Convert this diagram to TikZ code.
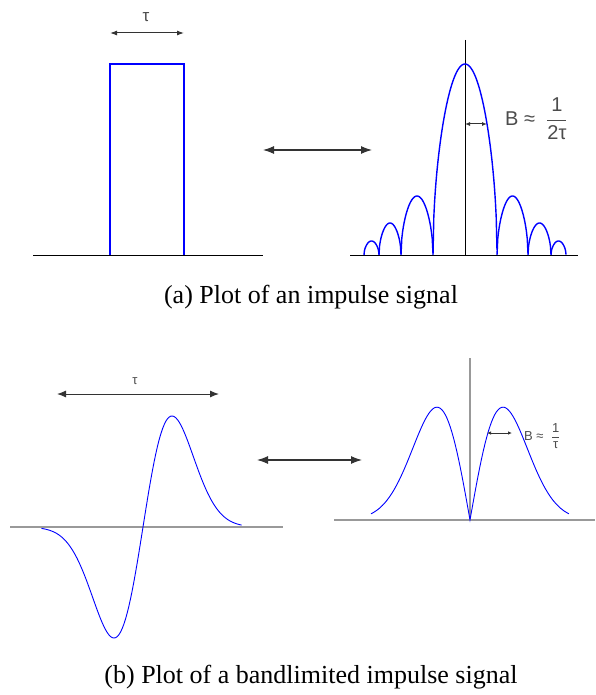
\documentclass[tikz,border=0pt]{standalone}
\usepackage{fontspec}
\setmainfont{Liberation Serif}
\newfontfamily\labelfont{Liberation Sans}
\usetikzlibrary{arrows.meta}

\newcommand*{\baseA}{255}
\newcommand*{\baseB}{527}
\newcommand*{\baseC}{520}

\begin{document}
\begin{tikzpicture}
[
	x=1pt,y=-1pt,
	signal/.style={blue,line width=1.4pt},
	thinsignal/.style={blue,line width=0.9pt},
	axisline/.style={black,line width=0.9pt},
	greyaxis/.style={gray!80,line width=1.1pt},
	bigarrow/.style={{Latex[length=11pt,width=8pt]}-{Latex[length=11pt,width=8pt]},line width=1.1pt,black!80},
	smallarrow/.style={{Latex[length=7pt,width=5pt]}-{Latex[length=7pt,width=5pt]},line width=1pt,black!80},
	lbl/.style={font=\labelfont,text=black!70,inner sep=0pt},
	caption/.style={font=\fontsize{26}{30}\selectfont,inner sep=0pt}
]
	\useasboundingbox (0,0) rectangle (595,695);

	% (a) rectangular pulse
	\draw[signal] (110,\baseA) -- (110,64) -- (184,64) -- (184,\baseA);
	\draw[axisline] (33,\baseA) -- (263,\baseA);
	\coordinate (tauAl) at (110,33);
	\coordinate (tauAr) at (184,33);
	\draw[smallarrow] (tauAl) -- (tauAr);
	\node[lbl,font=\labelfont\fontsize{17}{19}\selectfont] (tauA) at (146,17) {τ};

	% transform pair
	\coordinate (pairAl) at (263,150);
	\coordinate (pairAr) at (372,150);
	\draw[bigarrow] (pairAl) -- (pairAr);

	% (a) spectrum
	\draw[axisline] (350,\baseA) -- (578,\baseA);
	\draw[axisline] (465,40) -- (465,\baseA);
	\draw[signal,domain=-1:1,samples=81] plot ({465+32*\x},{\baseA-191*sqrt(max(cos(90*\x),0))});
	\foreach \xa/\xb/\h in {364/379/14, 379/401/32, 401/433/59, 497/528/59, 528/551/32, 551/566/14}
		\draw[signal,domain=0:1,samples=41] plot ({\xa+(\xb-\xa)*\x},{\baseA-\h*sqrt(max(sin(180*\x),0))});
	\coordinate (bwAl) at (465,124);
	\coordinate (bwAr) at (487,124);
	\draw[smallarrow,{Latex[length=5pt,width=4pt]}-{Latex[length=5pt,width=4pt]}] (bwAl) -- (bwAr);
	\node[lbl,font=\labelfont\fontsize{20}{22}\selectfont,anchor=west] (bwA) at (505,119)
		{B ≈\ \ $\displaystyle\frac{\mbox{1}}{\mbox{2τ}}$};

	\node[caption] (captionA) at (311,297) {(a) Plot of an impulse signal};

	% (b) derivative of gaussian
	\draw[greyaxis] (10,\baseB) -- (283,\baseB);
	\draw[thinsignal,domain=-3.5:3.4,samples=120] plot ({143+29*\x},{\baseB-183*\x*exp(-\x*\x/2)});
	\coordinate (tauBl) at (57,394);
	\coordinate (tauBr) at (219,394);
	\draw[smallarrow,{Latex[length=9pt,width=7pt]}-{Latex[length=9pt,width=7pt]}] (tauBl) -- (tauBr);
	\node[lbl,font=\labelfont\fontsize{13}{15}\selectfont] (tauB) at (135,381) {τ};

	\coordinate (pairBl) at (257,460);
	\coordinate (pairBr) at (362,460);
	\draw[bigarrow] (pairBl) -- (pairBr);

	% (b) spectrum
	\draw[greyaxis] (334,\baseC) -- (595,\baseC);
	\draw[greyaxis] (470,358) -- (470,\baseC);
	\draw[thinsignal,domain=-3:3,samples=121] plot ({470+33*\x},{\baseC-186*abs(\x)*exp(-\x*\x/2)});
	\coordinate (bwBl) at (487,433);
	\coordinate (bwBr) at (512,433);
	\draw[smallarrow,line width=0.8pt,{Latex[length=4pt,width=3.5pt]}-{Latex[length=4pt,width=3.5pt]}] (bwBl) -- (bwBr);
	\node[lbl,font=\labelfont\fontsize{13}{15}\selectfont,anchor=west] (bwB) at (524,436)
		{B ≈\ \ $\displaystyle\frac{\mbox{1}}{\mbox{τ}}$};

	\node[caption] (captionB) at (311,677) {(b) Plot of a bandlimited impulse signal};

\end{tikzpicture}
\end{document}
